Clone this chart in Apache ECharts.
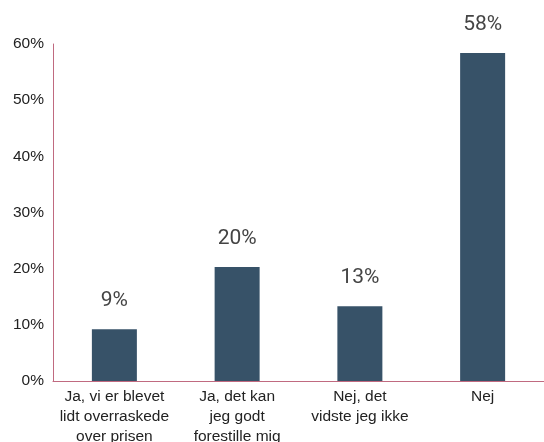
<!DOCTYPE html>
<html>
<head>
<meta charset="utf-8">
<script src="https://cdn.jsdelivr.net/npm/echarts@6/dist/echarts.min.js"></script>
<style>
  html, body { margin: 0; padding: 0; background: #fff; }
  #chart { width: 544px; height: 442px; }
</style>
</head>
<body>
<div id="chart"></div>
<script>
// kategorier og værdier (procent)
var categories = [
  'Ja, vi er blevet\nlidt overraskede\nover prisen',
  'Ja, det kan\njeg godt\nforestille mig',
  'Nej, det\nvidste jeg ikke',
  'Nej'
]
var values = [9.2, 20.3, 13.3, 58.4]
var yTicks = [0, 10, 20, 30, 40, 50, 60]

var chart = echarts.init(document.getElementById('chart'))
chart.setOption({
  animation: false,
  grid: {
    left: 53,
    right: 0,
    top: 44,
    bottom: 61,
    containLabel: false,
    outerBoundsMode: 'none'
  },
  xAxis: {
    type: 'category',
    data: categories,
    axisLine: { lineStyle: { color: '#c06a80', width: 1 } },
    axisTick: { show: false },
    axisLabel: {
      color: '#222',
      fontSize: 15.5,
      fontFamily: 'Liberation Sans, Arial, sans-serif',
      lineHeight: 20,
      margin: 6,
      interval: 0
    }
  },
  yAxis: {
    type: 'value',
    min: yTicks[0],
    max: yTicks[yTicks.length - 1],
    interval: 10,
    splitLine: { show: false },
    axisLine: { show: true, lineStyle: { color: '#c06a80', width: 1 } },
    axisTick: { show: false },
    axisLabel: {
      color: '#222',
      fontSize: 15.5,
      fontFamily: 'Liberation Sans, Arial, sans-serif',
      margin: 9,
      formatter: '{value}%'
    }
  },
  series: [
    {
      type: 'bar',
      data: values,
      barWidth: 45,
      itemStyle: { color: '#375268' },
      label: {
        show: true,
        position: 'top',
        distance: 18,
        color: '#444',
        fontSize: 21,
        fontFamily: 'Roboto, sans-serif',
        formatter: function (p) {
          return Math.round(p.value) + '%'
        }
      }
    }
  ]
})
</script>
</body>
</html>
